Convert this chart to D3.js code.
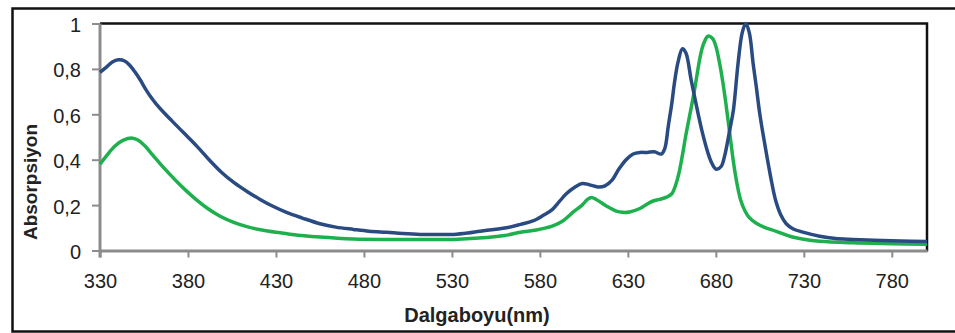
<!DOCTYPE html>
<html><head><meta charset="utf-8">
<script src="https://cdn.jsdelivr.net/npm/d3@7"></script>
<style>
html,body{margin:0;padding:0;background:#fff;}
svg{display:block;}
</style></head>
<body>
<svg id="chart" width="955" height="333"></svg>
<script>
// Wavelength (nm) and absorbance readings, blue series
const blueNm = [330,334,337,340.5,344,347,350,353,356,359,362,366,371,378,385,392,399,406,414,421,428,436,445,455,464,474,483,493,502,512,521,531,539,546,554,561,569,576,582,587,591,595,600,604,608,613,617,621,625,629,633,637,641,645,649,651,653,655,656.5,658.5,661,663,666,670,672,675.5,678,680.3,683,685,688,690,692.6,695,697,699,701.2,703,705,708,711,714,717,720,724,730,739,748,758,770,785,800];
const blueA  = [0.785,0.81,0.83,0.84,0.835,0.815,0.785,0.75,0.71,0.675,0.645,0.61,0.57,0.515,0.46,0.4,0.345,0.3,0.258,0.225,0.196,0.168,0.143,0.118,0.103,0.093,0.085,0.08,0.075,0.071,0.07,0.071,0.077,0.085,0.093,0.1,0.115,0.13,0.155,0.18,0.215,0.25,0.28,0.295,0.29,0.28,0.285,0.31,0.36,0.4,0.425,0.432,0.432,0.435,0.425,0.45,0.55,0.65,0.74,0.83,0.889,0.87,0.75,0.6,0.53,0.43,0.38,0.358,0.37,0.417,0.535,0.62,0.823,0.96,1.0,0.96,0.823,0.72,0.6,0.46,0.33,0.22,0.155,0.118,0.095,0.08,0.063,0.053,0.049,0.045,0.042,0.04];
// Green series
const greenNm = [330,334,338.5,343,348.5,352,355.6,360,365,370,375,380,385,391,398,406,414,422,430,438,446,455,465,474,490,510,531,550,560,569,578,587,593,599,604,607,609.3,612,615,618,623,627,631,636.8,641,644.4,648,652,655,657,659,661,663,665,667,669,671,673,675.5,678,680,682,684,686,688,690,692,694,696.5,699,703,707,714,722,730,739,758,780,800];
const greenA  = [0.38,0.42,0.46,0.485,0.495,0.485,0.46,0.42,0.375,0.333,0.293,0.256,0.222,0.186,0.152,0.124,0.104,0.09,0.08,0.072,0.065,0.059,0.054,0.051,0.049,0.049,0.049,0.057,0.066,0.08,0.09,0.107,0.13,0.17,0.2,0.225,0.234,0.225,0.21,0.195,0.175,0.168,0.17,0.185,0.205,0.218,0.225,0.235,0.25,0.285,0.34,0.42,0.51,0.59,0.67,0.76,0.85,0.91,0.944,0.935,0.9,0.83,0.74,0.63,0.51,0.39,0.295,0.225,0.175,0.145,0.12,0.104,0.085,0.063,0.05,0.041,0.034,0.03,0.027];
const xTicks = [330,380,430,480,530,580,630,680,730,780];
const yTicks = [0,0.2,0.4,0.6,0.8,1];
const yTickLabels = ["0","0,2","0,4","0,6","0,8","1"];
const xTitle = "Dalgaboyu(nm)";
const yTitle = "Absorpsiyon";

const svg = d3.select("#chart");
const L = 100, R = 927, T = 23.5, B = 250.5;
const x = d3.scaleLinear().domain([330,800]).range([L,R]);
const y = d3.scaleLinear().domain([0,1]).range([B,T]);

// outer frame
svg.append("rect").attr("x",12.5).attr("y",8.5).attr("width",1000).attr("height",323)
  .attr("fill","none").attr("stroke","#111").attr("stroke-width",2.5);

// plot border (top & right black)
svg.append("path").attr("d",`M${L},${T}H${R}V${B+1}`).attr("fill","none")
  .attr("stroke","#111").attr("stroke-width",2.5);

const fontFam = "'Liberation Sans', Arial, sans-serif";

// x axis
const xAxis = d3.axisBottom(x).tickValues(xTicks).tickSize(7).tickSizeOuter(0).tickPadding(16);
const gx = svg.append("g").attr("transform",`translate(0,${B})`).call(xAxis);
gx.select(".domain").attr("stroke","#8c8c8c").attr("stroke-width",3);
gx.selectAll(".tick line").attr("stroke","#8c8c8c").attr("stroke-width",2);
gx.selectAll(".tick text").attr("font-family",fontFam).attr("font-size",20).attr("fill","#222");

// y axis
const yAxis = d3.axisLeft(y).tickValues(yTicks).tickFormat((d,i)=>yTickLabels[i]).tickSize(8).tickSizeOuter(0).tickPadding(11);
const gy = svg.append("g").attr("transform",`translate(${L},0)`).call(yAxis);
gy.select(".domain").attr("stroke","#8c8c8c").attr("stroke-width",3).attr("d",`M0,${T}V${B+7}`);
gy.selectAll(".tick line").attr("stroke","#8c8c8c").attr("stroke-width",2);
gy.selectAll(".tick text").attr("font-family",fontFam).attr("font-size",20).attr("fill","#222").attr("dy","0.4em");

// lines
const line = d3.line().x(d=>x(d[0])).y(d=>y(d[1])).curve(d3.curveCatmullRom.alpha(0.5));
const blue = blueNm.map((v,i)=>[v,blueA[i]]);
const green = greenNm.map((v,i)=>[v,greenA[i]]);
svg.append("path").datum(green).attr("d",line).attr("fill","none")
  .attr("stroke","#1fb04e").attr("stroke-width",3.5).attr("stroke-linejoin","round");
svg.append("path").datum(blue).attr("d",line).attr("fill","none")
  .attr("stroke","#2a4b82").attr("stroke-width",3.5).attr("stroke-linejoin","round");

// titles
svg.append("text").attr("x",477).attr("y",322).attr("text-anchor","middle")
  .attr("font-family",fontFam).attr("font-weight","bold").attr("font-size",20).attr("fill","#222").text(xTitle);
svg.append("text").attr("transform","translate(37,182) rotate(-90)").attr("text-anchor","middle")
  .attr("font-family",fontFam).attr("font-weight","bold").attr("font-size",19).attr("fill","#222").text(yTitle);
</script>
</body></html>
